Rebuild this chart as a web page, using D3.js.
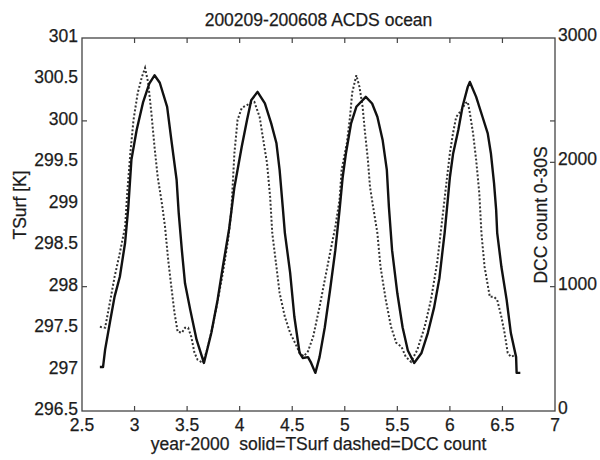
<!DOCTYPE html>
<html><head><meta charset="utf-8">
<script src="https://cdn.jsdelivr.net/npm/d3@7"></script>
<style>body{margin:0;background:#fff} text{white-space:pre}</style>
</head><body><svg id="c" width="600" height="460"></svg>
<script>
const tsurfX = [2.67,2.70,2.72,2.77,2.81,2.86,2.91,2.94,2.97,3.02,3.08,3.14,3.19,3.24,3.31,3.35,3.40,3.42,3.45,3.48,3.53,3.59,3.66,3.73,3.79,3.84,3.90,3.95,4.02,4.07,4.11,4.17,4.24,4.30,4.35,4.38,4.41,4.43,4.48,4.52,4.57,4.60,4.65,4.68,4.72,4.76,4.81,4.86,4.91,4.95,4.98,5.01,5.06,5.11,5.20,5.26,5.31,5.36,5.40,5.42,5.45,5.50,5.55,5.60,5.66,5.73,5.79,5.85,5.90,5.95,5.98,6.00,6.03,6.08,6.12,6.17,6.19,6.25,6.31,6.36,6.39,6.42,6.44,6.45,6.49,6.54,6.58,6.63,6.635,6.67];
const tsurfY = [297.03,297.03,297.24,297.6,297.88,298.12,298.53,298.95,299.53,299.89,300.22,300.45,300.55,300.46,300.17,299.77,299.29,298.89,298.44,298.04,297.72,297.36,297.08,297.44,297.84,298.24,298.7,299.2,299.69,300.01,300.25,300.35,300.21,299.97,299.73,299.41,298.96,298.65,298.17,297.64,297.2,297.14,297.15,297.08,296.96,297.15,297.51,297.96,298.44,298.92,299.32,299.6,299.97,300.17,300.29,300.21,300.05,299.77,299.41,298.96,298.44,297.92,297.51,297.23,297.08,297.2,297.44,297.75,298.1,298.65,299.05,299.32,299.6,299.89,300.17,300.41,300.47,300.29,300.05,299.85,299.61,299.25,298.93,298.65,298.24,297.84,297.44,297.15,296.96,296.96];
const dccX = [2.67,2.72,2.77,2.81,2.86,2.91,2.93,2.96,2.99,3.03,3.07,3.10,3.13,3.16,3.19,3.22,3.26,3.29,3.32,3.35,3.38,3.41,3.45,3.48,3.51,3.54,3.57,3.60,3.65,3.69,3.73,3.78,3.84,3.89,3.92,3.95,3.98,4.02,4.07,4.11,4.14,4.19,4.22,4.26,4.29,4.31,4.35,4.38,4.43,4.48,4.52,4.57,4.61,4.65,4.70,4.76,4.81,4.86,4.91,4.95,4.97,5.02,5.05,5.07,5.11,5.14,5.17,5.19,5.22,5.24,5.27,5.31,5.34,5.39,5.44,5.49,5.54,5.58,5.63,5.69,5.76,5.82,5.88,5.93,5.97,6.00,6.03,6.06,6.11,6.15,6.17,6.19,6.22,6.25,6.28,6.30,6.33,6.38,6.42,6.45,6.49,6.52,6.55,6.58,6.63];
const dccY = [677,670,894,1079,1272,1481,1750,2075,2341,2558,2687,2759,2638,2397,2124,1883,1670,1481,1215,998,789,637,629,669,669,596,468,412,387,492,629,838,1111,1376,1600,2075,2341,2437,2461,2480,2486,2365,2204,1995,1720,1432,1159,950,757,629,560,470,440,480,600,838,1055,1272,1481,1698,1939,2156,2365,2558,2700,2606,2445,2260,2019,1802,1640,1432,1159,894,677,548,516,436,396,492,677,894,1200,1561,1858,2075,2236,2365,2421,2477,2486,2397,2236,2019,1750,1432,1159,918,918,894,757,629,468,436,452];
const xTicks = [2.5,3,3.5,4,4.5,5,5.5,6,6.5,7];
const leftTicks = [296.5,297,297.5,298,298.5,299,299.5,300,300.5,301];
const leftTickMarks = [298,300];
const rightTicks = [0,1000,2000,3000];
const rightTickMarks = [1000,2000,2333];
const titleText = "200209-200608 ACDS ocean";
const xLabel = "year-2000  solid=TSurf dashed=DCC count";
const yLabelLeft = "TSurf [K]";
const yLabelRight = "DCC count 0-30S";

const L = 82, R = 555, T = 38, B = 411;
const svg = d3.select("#c");
const font = "'Liberation Sans', Arial, sans-serif";
const x = d3.scaleLinear().domain([2.5,7]).range([L,R]);
const yL = d3.scaleLinear().domain([296.5,301]).range([B,T]);
const yR = d3.scaleLinear().domain([0,3000]).range([B,T]);
const axisCol = "#444", txtCol = "#1c1c1c", fs = 17.5;

svg.append("rect").attr("x",L).attr("y",T).attr("width",R-L).attr("height",B-T)
  .attr("fill","none").attr("stroke",axisCol).attr("stroke-width",1.3);

const inner = xTicks.slice(1,-1);
svg.selectAll(".xtb").data(inner).enter().append("line")
  .attr("x1",d=>x(d)).attr("x2",d=>x(d)).attr("y1",B).attr("y2",B-5)
  .attr("stroke",axisCol).attr("stroke-width",1.2);
svg.selectAll(".xtt").data(inner).enter().append("line")
  .attr("x1",d=>x(d)).attr("x2",d=>x(d)).attr("y1",T).attr("y2",T+5)
  .attr("stroke",axisCol).attr("stroke-width",1.2);
svg.selectAll(".ylt").data(leftTickMarks).enter().append("line")
  .attr("x1",L).attr("x2",L+5).attr("y1",d=>yL(d)).attr("y2",d=>yL(d))
  .attr("stroke",axisCol).attr("stroke-width",1.2);
svg.selectAll(".yrt").data(rightTickMarks).enter().append("line")
  .attr("x1",R).attr("x2",R-5).attr("y1",d=>yR(d)).attr("y2",d=>yR(d))
  .attr("stroke",axisCol).attr("stroke-width",1.2);

const lab = svg.append("g").attr("font-family",font).attr("font-size",fs)
  .attr("fill",txtCol).attr("stroke",txtCol).attr("stroke-width",0.25);
lab.selectAll(".xl").data(xTicks).enter().append("text")
  .attr("x",d=>x(d)).attr("y",B+20).attr("text-anchor","middle").text(d=>d);
lab.selectAll(".yll").data(leftTicks).enter().append("text")
  .attr("x",L-4).attr("y",d=>yL(d)+4).attr("text-anchor","end").text(d=>d);
lab.selectAll(".yrl").data(rightTicks).enter().append("text")
  .attr("x",R+3).attr("y",d=>yR(d)+3).attr("text-anchor","start").text(d=>d);
lab.append("text").attr("x",(L+R)/2).attr("y",26).attr("text-anchor","middle").text(titleText);
lab.append("text").attr("x",(L+R)/2).attr("y",450).attr("text-anchor","middle").text(xLabel);
lab.append("text").attr("transform","translate(26,205) rotate(-90)").attr("text-anchor","middle").text(yLabelLeft);
lab.append("text").attr("transform","translate(547,215) rotate(-90)").attr("text-anchor","middle").text(yLabelRight);

const ts = tsurfX.map((d,i)=>[d,tsurfY[i]]);
const dc = dccX.map((d,i)=>[d,dccY[i]]);
svg.append("path").datum(dc).attr("fill","none").attr("stroke","#333").attr("stroke-width",2)
  .attr("stroke-dasharray","2,2").attr("d",d3.line().x(d=>x(d[0])).y(d=>yR(d[1])));
svg.append("path").datum(ts).attr("fill","none").attr("stroke","#111").attr("stroke-width",2.4)
  .attr("stroke-linejoin","round").attr("d",d3.line().x(d=>x(d[0])).y(d=>yL(d[1])));
</script></body></html>
